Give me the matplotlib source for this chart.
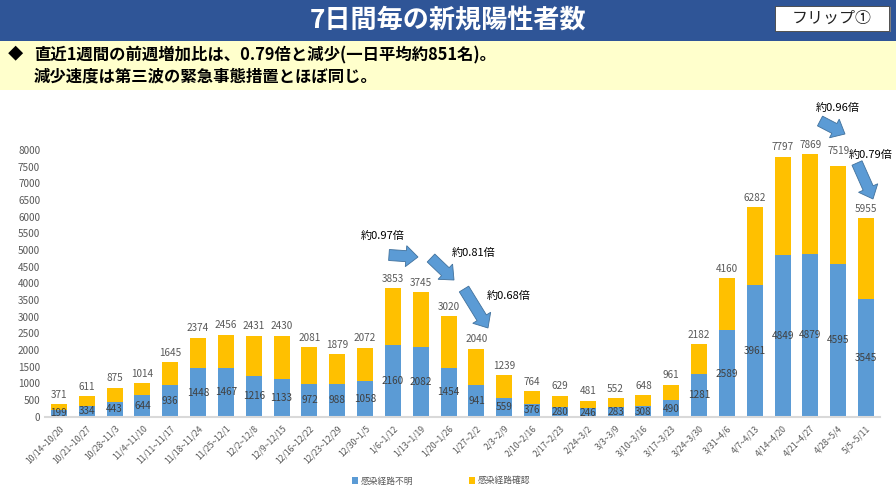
import matplotlib
matplotlib.use('Agg')
import matplotlib.pyplot as plt
from matplotlib.patches import Rectangle, FancyArrow

plt.rcParams['font.family'] = ['Noto Sans CJK JP', 'DejaVu Sans']

weeks = ['10/14~10/20', '10/21~10/27', '10/28~11/3', '11/4~11/10', '11/11~11/17',
         '11/18~11/24', '11/25~12/1', '12/2~12/8', '12/9~12/15', '12/16~12/22',
         '12/23~12/29', '12/30~1/5', '1/6~1/12', '1/13~1/19', '1/20~1/26',
         '1/27~2/2', '2/3~2/9', '2/10~2/16', '2/17~2/23', '2/24~3/2',
         '3/3~3/9', '3/10~3/16', '3/17~3/23', '3/24~3/30', '3/31~4/6',
         '4/7~4/13', '4/14~4/20', '4/21~4/27', '4/28~5/4', '5/5~5/11']
unknown = [199, 334, 443, 644, 936, 1448, 1467, 1216, 1133, 972,
           988, 1058, 2160, 2082, 1454, 941, 559, 376, 280, 246,
           283, 308, 490, 1281, 2589, 3961, 4849, 4879, 4595, 3545]
totals = [371, 611, 875, 1014, 1645, 2374, 2456, 2431, 2430, 2081,
          1879, 2072, 3853, 3745, 3020, 2040, 1239, 764, 629, 481,
          552, 648, 961, 2182, 4160, 6282, 7797, 7869, 7519, 5955]
known = [t - u for t, u in zip(totals, unknown)]
y_ticks = list(range(0, 8001, 500))

BLUE = '#5B9BD5'
GOLD = '#FFC000'
GREY = '#595959'

W, H = 896, 504
fig = plt.figure(figsize=(W / 100, H / 100), dpi=100)

# chart area, in figure fractions taken from the pixel positions
ax = fig.add_axes([45 / W, 1 - 416.7 / H, 835 / W, 266.7 / H])
x = list(range(len(weeks)))
ax.bar(x, unknown, width=0.57, color=BLUE, label='感染経路不明')
ax.bar(x, known, width=0.57, bottom=unknown, color=GOLD, label='感染経路確認')

for i in x:
    ax.text(i, unknown[i] / 2, str(unknown[i]), ha='center', va='center',
            fontsize=7.2, color='#404040')
    # the 4/28 label sits higher than the others in the original
    gap = 310 if weeks[i] == '4/28~5/4' else 130
    ax.text(i, totals[i] + gap, str(totals[i]), ha='center', va='bottom',
            fontsize=7.2, color=GREY)

ax.set_xlim(-0.5, len(weeks) - 0.5)
ax.set_ylim(0, 8000)
ax.set_yticks(y_ticks)
ax.set_xticks(x)
ax.set_xticklabels(weeks, rotation=45, ha='right', rotation_mode='anchor')
ax.tick_params(axis='both', length=0, labelsize=7.2, labelcolor=GREY)
ax.tick_params(axis='x', labelsize=6.2, pad=5)
for side in ['top', 'right', 'left']:
    ax.spines[side].set_visible(False)
ax.spines['bottom'].set_color('#D9D9D9')
ax.spines['bottom'].set_linewidth(1.5)

ax.legend(loc='center', bbox_to_anchor=(441 / W, 1 - 481 / H), bbox_transform=fig.transFigure,
          ncol=2, frameon=False, fontsize=6.3, labelcolor=GREY, handlelength=0.7,
          handleheight=0.7, handletextpad=0.3, columnspacing=6.4)

# overlay in pixel coordinates for the slide furniture
over = fig.add_axes([0, 0, 1, 1], zorder=5)
over.set_xlim(0, W)
over.set_ylim(H, 0)
over.axis('off')

over.add_patch(Rectangle((0, 0), W, 41, color='#2F5597', lw=0))
over.add_patch(Rectangle((0, 41), W, 49, color='#FFFFCC', lw=0))
over.text(448, 20.5, '7日間毎の新規陽性者数', color='white', fontsize=18.8, weight='bold',
          ha='center', va='center')
over.add_patch(Rectangle((776, 7), 115, 25, facecolor='#7F7F7F', lw=0))
over.add_patch(Rectangle((775, 6), 114, 25, facecolor='white', edgecolor='#404040', lw=0.6))
over.text(832, 18.5, 'フリップ①', color='#222222', fontsize=11.5, ha='center', va='center')

over.text(8, 54, '◆', fontsize=11, color='black', va='center')
over.text(34, 55, '直近1週間の前週増加比は、0.79倍と減少(一日平均約851名)。', fontsize=11.8,
          weight='bold', color='black', va='center')
over.text(34, 76, '減少速度は第三波の緊急事態措置とほぼ同じ。', fontsize=11.8,
          weight='bold', color='black', va='center')

# ratio arrows: start x, start y, end x, end y
arrows = [(389, 255, 418, 257), (431, 258, 454, 280), (464, 289, 488, 328),
          (820, 121, 845, 134), (857, 163, 873, 199)]
for x0, y0, x1, y1 in arrows:
    over.add_patch(FancyArrow(x0, y0, x1 - x0, y1 - y0, width=11, head_width=21, head_length=12,
                              length_includes_head=True, facecolor=BLUE, edgecolor='#41719C', lw=0.6))

ratio_labels = [('約0.97倍', 383, 236), ('約0.81倍', 474, 253), ('約0.68倍', 509, 296),
                ('約0.96倍', 838, 108), ('約0.79倍', 871, 155)]
for text, tx, ty in ratio_labels:
    over.text(tx, ty, text, fontsize=8, color='black', ha='center', va='center')

fig.savefig('out.png', dpi=100)
